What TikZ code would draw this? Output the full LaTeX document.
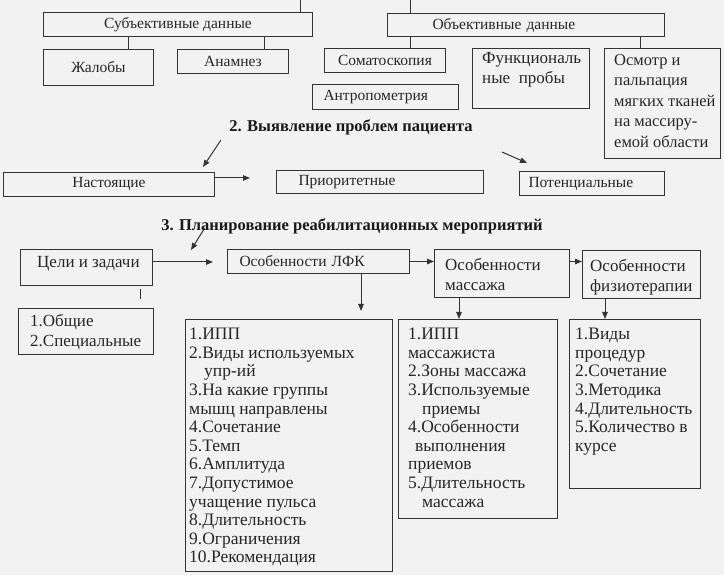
\documentclass[tikz,border=0pt]{standalone}
\usepackage{fontspec}
\setmainfont{Liberation Serif}
\usetikzlibrary{arrows.meta,positioning,calc}

\begin{document}
\begin{tikzpicture}[
  x=1pt, y=-1pt,
  >={Triangle[length=7pt,width=5.5pt]},
  box/.style={draw=black!80, line width=1pt, anchor=north west, inner sep=0pt, text=black!85, font=\fontsize{15.5}{18}\selectfont},
  txt/.style={anchor=north west, align=left, inner sep=0pt, text=black!85, font=\fontsize{17}{20.5}\selectfont},
  listtxt/.style={txt, font=\fontsize{17.5}{18.6}\selectfont},
  heading/.style={text=black!90, font=\fontsize{16.5}{19}\bfseries\selectfont},
  link/.style={draw=black!80, line width=1pt}
]
\useasboundingbox (0,0) rectangle (724,575);
\fill[black!5] (0,0) rectangle (724,575);

% 1. subjective / objective data
\node[box, minimum width=269, minimum height=24] (subj) at (43,12) {Субъективные данные};
\node[box, minimum height=23, inner xsep=45, text width=187, align=left] (obj) at (387,13) {Объективные данные};

\node[box, minimum width=110, minimum height=36] (zhal) at (43,49) {Жалобы};
\node[box, minimum width=111, minimum height=24] (anam) at (177,49) {Анамнез};
\node[box, minimum width=121, minimum height=24] (somat) at (324,48) {Соматоскопия};
\node[box, minimum height=25, inner xsep=11, text width=124, align=left] (antro) at (312,84) {Антропометрия};
\node[box, minimum width=117, minimum height=60] (func) at (472,48) {};
\node[txt] (functxt) at ($(func.north west)+(10,4)$) {Функциональ\\ные\ \ пробы};
\node[box, minimum width=116, minimum height=110] (osm) at (604,48) {};
\node[txt, font=\fontsize{16.5}{20.5}\selectfont] (osmtxt) at ($(osm.north west)+(10,6)$) {Осмотр и\\пальпация\\мягких тканей\\на массиру-\\емой области};

\coordinate (topl) at (300,0);
\coordinate (topr) at (410,0);
\draw[link] (topl) -- (topl |- subj.north);
\draw[link] (topr) -- (topr |- obj.north);
\draw[link] ($(subj.south west)+(85,0)$) -- ($(zhal.north west)+(85,0)$);
\draw[link] ($(subj.south west)+(221,0)$) -- ($(anam.north west)+(87,0)$);
\draw[link] ($(obj.south west)+(23,0)$) -- ($(somat.north west)+(86,0)$);
\draw[link] ($(obj.south west)+(253,0)$) -- ($(osm.north west)+(36,0)$);

% 2. problems
\node[heading] (h2) at (351,127) {2. Выявление проблем пациента};
\node[box, minimum width=211, minimum height=24] (pres) at (3,172) {Настоящие};
\node[box, minimum height=23, inner xsep=22, text width=163, align=left] (prior) at (276,170) {Приоритетные};
\node[box, minimum height=24, inner xsep=9, text width=127, align=left] (pot) at (519,171) {Потенциальные};

\draw[link, ->] ($(h2.south west)+(-5,2)$) -- ($(pres.north east)+(-12,-5)$);
\draw[link, ->] ($(pres.north east)+(0,6)$) -- ($(prior.north west)+(-26,8)$);
\draw[link, ->] ($(pot.north west)+(-17,-19)$) -- ($(pot.north west)+(8,-8)$);

% 3. planning
\node[heading] (h3) at (352,226) {3. Планирование реабилитационных мероприятий};
\node[box, minimum width=132, minimum height=36] (celi) at (20,249) {};
\node[txt, anchor=west] (celitxt) at ($(celi.west)+(17,-4)$) {Цели и задачи};
\node[box, minimum height=24, inner xsep=12, text width=158, align=left] (lfk) at (227,249) {Особенности ЛФК};
\node[box, minimum width=135, minimum height=48] (mass) at (434,249) {};
\node[txt] (masstxt) at ($(mass.north west)+(11,9)$) {Особенности\\массажа};
\node[box, minimum width=118, minimum height=48] (phys) at (582,250) {};
\node[txt] (phystxt) at ($(phys.north west)+(8,9)$) {Особенности\\физиотерапии};

\node[box, minimum width=135, minimum height=46] (goals) at (18,308) {};
\node[txt] (goalstxt) at ($(goals.north west)+(12,6)$) {1.Общие\\2.Специальные};

\node[box, minimum width=207, minimum height=252] (lfklist) at (185,319) {};
\node[listtxt] (lfktxt) at ($(lfklist.north west)+(4,9)$) {1.ИПП\\2.Виды используемых\\\hspace*{15pt}упр-ий\\3.На какие группы\\мышц направлены\\4.Сочетание\\5.Темп\\6.Амплитуда\\7.Допустимое\\учащение пульса\\8.Длительность\\9.Ограничения\\10.Рекомендация};
\node[box, minimum width=159, minimum height=199] (masslist) at (398,319) {};
\node[listtxt] (masslisttxt) at ($(masslist.north west)+(10,9)$) {1.ИПП\\массажиста\\2.Зоны массажа\\3.Используемые\\\hspace*{14pt}приемы\\4.Особенности\\\hspace*{7pt}выполнения\\приемов\\5.Длительность\\\hspace*{14pt}массажа};
\node[box, minimum width=131, minimum height=169] (physlist) at (569,319) {};
\node[listtxt] (physlisttxt) at ($(physlist.north west)+(6,9)$) {1.Виды\\процедур\\2.Сочетание\\3.Методика\\4.Длительность\\5.Количество в\\курсе};

\draw[link, ->] ($(h3.west)+(47,2)$) -- ($(celi.north east)+(38,1)$);
\draw[link, ->] ($(celi.north east)+(0,13)$) -- ($(lfk.north west)+(-14,13)$);
\draw[link, ->] (lfk.east) -- (lfk.east -| mass.west);
\draw[link, ->] (mass.east |- lfk.east) -- (phys.west |- lfk.east);
\draw[link] ($(celi.south west)+(120,3)$) -- ++(0,10);
\draw[link, ->] ($(lfk.south west)+(134,0)$) -- ($(lfklist.north west)+(176,-8)$);
\draw[link, ->] ($(mass.south west)+(25,0)$) -- ($(masslist.north west)+(61,0)$);
\draw[link, ->] ($(phys.south west)+(23,0)$) -- ($(physlist.north west)+(36,0)$);

\end{tikzpicture}
\end{document}
